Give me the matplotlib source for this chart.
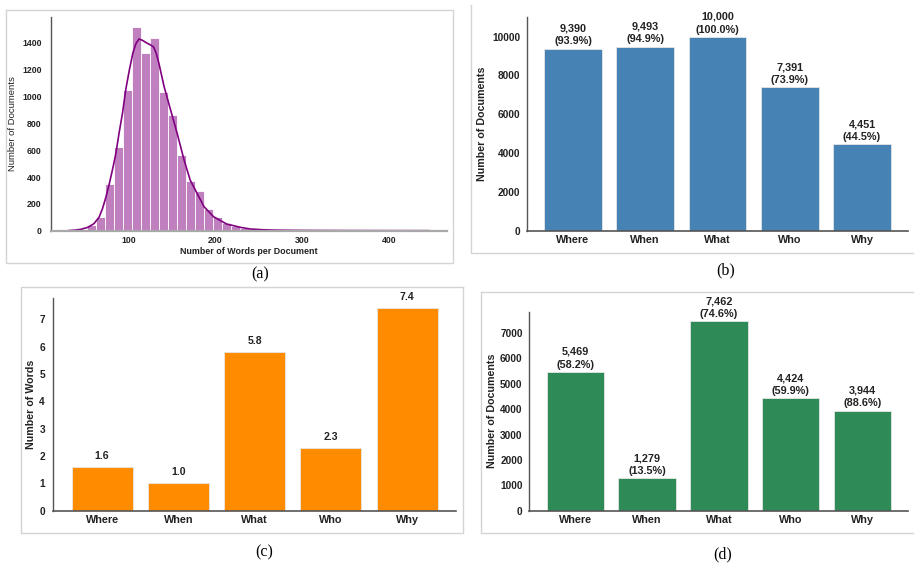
import matplotlib.pyplot as plt
import numpy as np
from matplotlib.ticker import MultipleLocator

plt.rcParams['font.family'] = ['Liberation Sans', 'DejaVu Sans']

# (a) words per document: 40 bins from 31 to 446
hist_start = 31
hist_width = 10.375
hist_counts = [2, 6, 40, 105, 349, 622, 1051, 1519, 1322, 1437,
               1033, 866, 563, 373, 296, 162, 100, 55, 37, 22,
               12, 7, 4, 3, 2, 1, 1, 1, 0, 1,
               0, 0, 0, 0, 0, 1, 0, 0, 0, 1]
# kde curve (count scale)
kde_x = [31, 38, 45, 53, 60, 66, 70, 74, 78, 82, 85.5, 89, 93, 97, 101, 105,
         108.5, 112, 116, 121, 125.5, 129, 132, 135, 141, 148.5, 156, 164,
         171, 179, 187, 198, 213, 229, 240, 255, 270, 300, 350, 400, 446]
kde_y = [1, 4, 10, 25, 52, 100, 165, 252, 355, 470, 580, 725, 875, 1060, 1200, 1325,
         1394, 1429, 1419, 1399, 1384, 1368, 1320, 1247, 1073, 899, 726, 527,
         378, 278, 179, 104, 50, 25, 13, 7, 4, 2, 1, 0.5, 0.3]

categories = ["Where", "When", "What", "Who", "Why"]
docs_all = [9390, 9493, 10000, 7391, 4451]
docs_all_pct = [93.9, 94.9, 100.0, 73.9, 44.5]
words_avg = [1.6, 1.0, 5.8, 2.3, 7.4]
docs_sub = [5469, 1279, 7462, 4424, 3944]
docs_sub_pct = [58.2, 13.5, 74.6, 59.9, 88.6]

W, H = 920, 567
fig = plt.figure(figsize=(W / 100, H / 100), dpi=100)

# overlay in pixel coords for panel frames and captions
bg = fig.add_axes([0, 0, 1, 1], zorder=-1)
bg.set_xlim(0, W)
bg.set_ylim(H, 0)
bg.axis('off')
fc = '#d4d4d4'
bg.plot([6, 453, 453, 6, 6], [10, 10, 262.7, 262.7, 10], color=fc, lw=1)
bg.plot([470.7, 470.7, 913], [5, 253.3, 253.3], color=fc, lw=1)
bg.plot([462.7, 21.3, 21.3, 462.7, 462.7], [286.7, 286.7, 533, 533, 286.7], color=fc, lw=1)
bg.plot([913, 481, 481, 913], [291.7, 291.7, 533.3, 533.3], color=fc, lw=1)
for lab, x, y in [("(a)", 260, 274), ("(b)", 726, 270.5), ("(c)", 264, 552.5), ("(d)", 722.5, 554)]:
    bg.text(x, y, lab, ha='center', va='center', fontsize=11.5, family='Liberation Serif')


def px_axes(left, top, right, bottom):
    return fig.add_axes([left / W, 1 - bottom / H, (right - left) / W, (bottom - top) / H])


def base_style(ax, bottom_color='#555555', bottom_lw=1.2):
    for s in ('top', 'right'):
        ax.spines[s].set_visible(False)
    ax.spines['left'].set_color('#555555')
    ax.spines['left'].set_linewidth(1.0)
    ax.spines['bottom'].set_color(bottom_color)
    ax.spines['bottom'].set_linewidth(bottom_lw)
    ax.tick_params(length=0, colors='#222222')


# ---- (a)
ax = px_axes(50.7, 16.7, 446.7, 230.7)
edges = hist_start + hist_width * np.arange(len(hist_counts) + 1)
ax.bar(edges[:-1], hist_counts, width=hist_width, align='edge',
       color='#c080c0', edgecolor='white', linewidth=0.6)
ax.plot(kde_x, kde_y, color='purple', lw=1.2)
base_style(ax, bottom_color='#a8a8a8', bottom_lw=1.6)
ax.set_xticks([100, 200, 300, 400])
ax.set_yticks(range(0, 1401, 200))
ax.tick_params(axis='y', pad=6.5)
ax.tick_params(axis='x', pad=3.5)
for t in ax.get_xticklabels() + ax.get_yticklabels():
    t.set_fontsize(6.3)
    t.set_fontweight('bold')
ax.set_xlabel("Number of Words per Document", fontsize=6.4, fontweight='bold',
              color='#222222', labelpad=1.5)
ax.set_ylabel("Number of Documents", fontsize=6.8, color='#222222', labelpad=4)


def bar_panel(box, values, color, ylabel, ystep, ypad, ylabelpad):
    ax = px_axes(*box)
    x = np.arange(len(categories))
    ax.bar(x, values, width=0.8, color=color, edgecolor='#e6e6e6', linewidth=0.6)
    base_style(ax)
    ax.yaxis.set_major_locator(MultipleLocator(ystep))
    ax.set_xticks(x)
    ax.set_xticklabels(categories, fontsize=7.8, fontweight='bold')
    ax.tick_params(axis='y', labelsize=7.3, pad=ypad)
    ax.tick_params(axis='x', pad=3.3)
    ax.set_ylabel(ylabel, fontsize=7.7, fontweight='bold', color='#222222', labelpad=ylabelpad)
    return ax


def label_counts(ax, values, pcts):
    for i, (v, p) in enumerate(zip(values, pcts)):
        ax.annotate(f"{v:,}\n({p:.1f}%)", (i, v), xytext=(0, 1.5), textcoords='offset points',
                    ha='center', va='bottom', fontsize=7.8, fontweight='bold',
                    color='#222222', linespacing=1.35)


# ---- (b)
ax = bar_panel((526.7, 16.7, 908.3, 230.7), docs_all, 'steelblue',
               "Number of Documents", 2000, 4.8, 3.5)
ax.set_ylim(0, 11030)
for t in ax.get_yticklabels():
    t.set_fontweight('bold')
label_counts(ax, docs_all, docs_all_pct)

# ---- (c)
ax = bar_panel((53.3, 298.3, 456, 510.7), words_avg, 'darkorange',
               "Number of Words", 1, 6, 2)
for t in ax.get_yticklabels():
    t.set_fontweight('bold')
for i, v in enumerate(words_avg):
    ax.annotate(f"{v:.1f}", (i, v), xytext=(0, 4.5), textcoords='offset points',
                ha='center', va='bottom', fontsize=7.6, fontweight='bold', color='#222222')

# ---- (d)
ax = bar_panel((529.3, 311.7, 908.3, 510.7), docs_sub, 'seagreen',
               "Number of Documents", 1000, 4.8, 2)
for t in ax.get_yticklabels():
    t.set_fontweight('bold')
label_counts(ax, docs_sub, docs_sub_pct)

fig.savefig("out.png", dpi=100)
